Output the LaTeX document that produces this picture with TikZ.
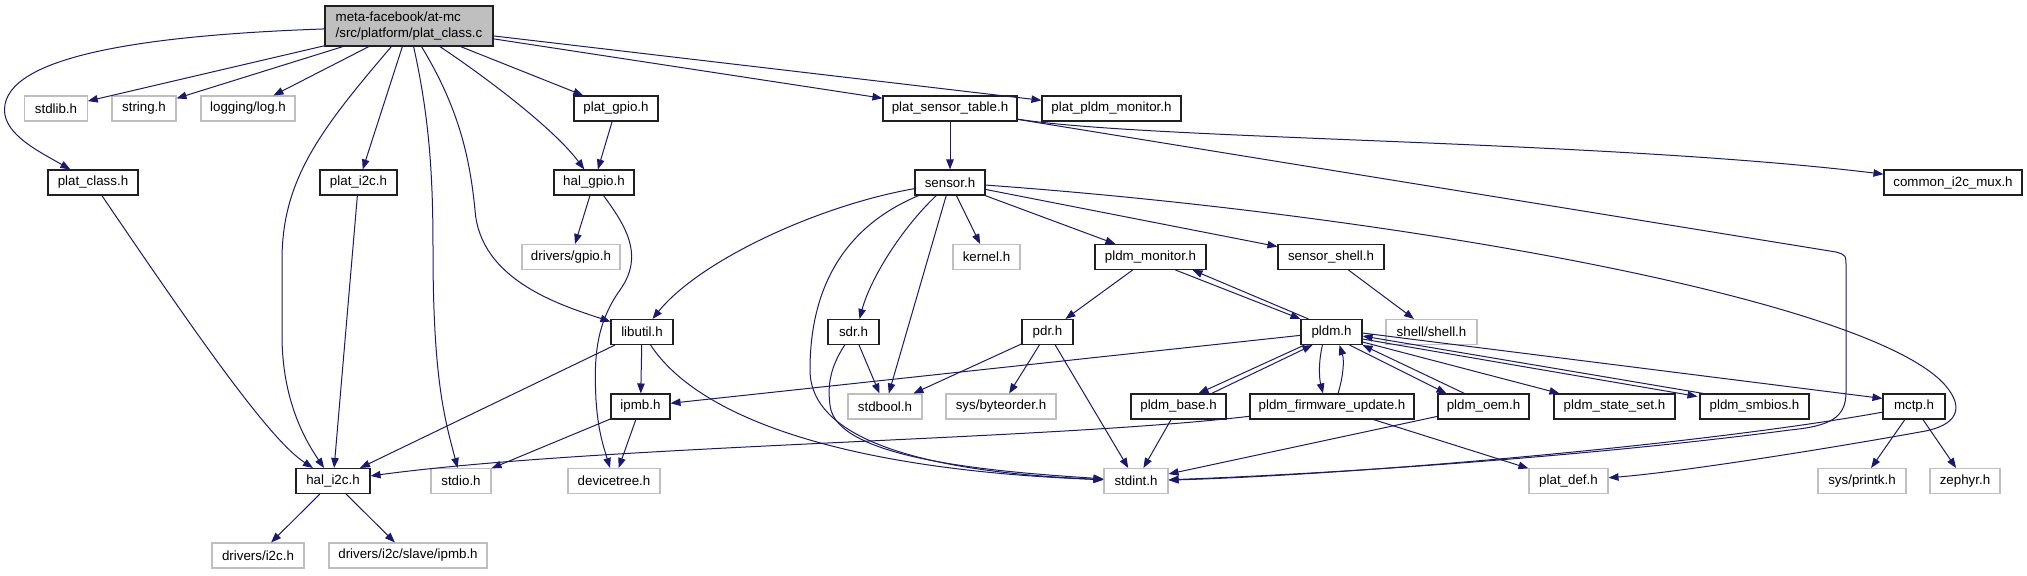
\documentclass[tikz,border=0pt]{standalone}
\usepackage{fontspec}
\setmainfont{Liberation Sans}
\usetikzlibrary{arrows.meta,calc}
\definecolor{edgeblue}{HTML}{191970}
\definecolor{greyline}{HTML}{BFBFBF}
\definecolor{rootfill}{HTML}{BFBFBF}
\definecolor{boxline}{HTML}{202020}
\tikzset{
  hnode/.style={rectangle, inner sep=0pt, minimum height=18.75pt, font=\fontsize{10}{11.5}\selectfont, text=black},
  blk/.style={hnode, draw=boxline, line width=0.8pt, fill=white},
  gry/.style={hnode, draw=greyline, line width=0.8pt, fill=white},
  bw/.style={minimum width=#1*0.75pt},
  dep/.style={draw=edgeblue, line width=0.75pt, -{Triangle[length=7.5pt,width=5.6pt]}}
}
\begin{document}
\begin{tikzpicture}[x=0.75pt,y=-0.75pt]
\useasboundingbox (0,0) rectangle (2027,575);
% row 0
\node[blk, bw=168, minimum height=30pt, fill=rootfill, align=left] (root) at (409,26) {meta-facebook/at-mc\\/src/platform/plat\_class.c};
% row 1
\node[gry, bw=62.5] (stdlib) at (56,108.5) {stdlib.h};
\node[gry, bw=64] (string) at (144,108.5) {string.h};
\node[gry, bw=94] (log) at (248,108.5) {logging/log.h};
\node[blk, bw=84] (plat_gpio) at (616,108.5) {plat\_gpio.h};
\node[blk, bw=134] (plat_sensor_table) at (950,108.5) {plat\_sensor\_table.h};
\node[blk, bw=139] (plat_pldm_monitor) at (1111.5,108.5) {plat\_pldm\_monitor.h};
% row 2
\node[blk, bw=90] (plat_class) at (93,182.5) {plat\_class.h};
\node[blk, bw=77] (plat_i2c) at (358.5,182.5) {plat\_i2c.h};
\node[blk, bw=80] (hal_gpio) at (594,182.5) {hal\_gpio.h};
\node[blk, bw=70] (sensor) at (950,182.5) {sensor.h};
\node[blk, bw=138] (common_i2c_mux) at (1953,182.5) {common\_i2c\_mux.h};
% row 3
\node[gry, bw=98] (drivers_gpio) at (571,257) {drivers/gpio.h};
\node[gry, bw=67] (kernel) at (986.5,257) {kernel.h};
\node[blk, bw=111] (pldm_monitor) at (1150.5,257) {pldm\_monitor.h};
\node[blk, bw=106] (sensor_shell) at (1331,257) {sensor\_shell.h};
% row 4
\node[blk, bw=62] (libutil) at (642,332) {libutil.h};
\node[blk, bw=51] (sdr) at (853.5,332) {sdr.h};
\node[blk, bw=51] (pdr) at (1047.5,332) {pdr.h};
\node[blk, bw=61] (pldm) at (1331.5,332) {pldm.h};
\node[gry, bw=91] (shell) at (1431.5,332) {shell/shell.h};
% row 5
\node[blk, bw=59] (ipmb) at (640.5,406.5) {ipmb.h};
\node[gry, bw=74] (stdbool) at (885,406.5) {stdbool.h};
\node[gry, bw=110] (byteorder) at (1001,406.5) {sys/byteorder.h};
\node[blk, bw=95] (pldm_base) at (1178.5,406.5) {pldm\_base.h};
\node[blk, bw=164] (pldm_fw) at (1332,406.5) {pldm\_firmware\_update.h};
\node[blk, bw=91] (pldm_oem) at (1483.5,406.5) {pldm\_oem.h};
\node[blk, bw=121] (pldm_state_set) at (1614.5,406.5) {pldm\_state\_set.h};
\node[blk, bw=109] (pldm_smbios) at (1754.5,406.5) {pldm\_smbios.h};
\node[blk, bw=62] (mctp) at (1914,406.5) {mctp.h};
% row 6
\node[blk, bw=74] (hal_i2c) at (333,481) {hal\_i2c.h};
\node[gry, bw=60] (stdio) at (461,481) {stdio.h};
\node[gry, bw=92] (devicetree) at (614,481) {devicetree.h};
\node[gry, bw=64] (stdint) at (1136,481) {stdint.h};
\node[gry, bw=79] (plat_def) at (1568.5,481) {plat\_def.h};
\node[gry, bw=88] (printk) at (1862,481) {sys/printk.h};
\node[gry, bw=70] (zephyr) at (1965,481) {zephyr.h};
% row 7
\node[gry, bw=92] (drivers_i2c) at (258,555.5) {drivers/i2c.h};
\node[gry, bw=158] (slave_ipmb) at (408,555.5) {drivers/i2c/slave/ipmb.h};

% edges from root
\draw[dep] (root) .. controls (150,35) and (4.5,55) .. (4.5,110) .. controls (4.5,135) and (40,152) .. (plat_class);
\draw[dep] (root) -- (stdlib);
\draw[dep] (root) -- (string);
\draw[dep] (root) -- (log);
\draw[dep] (root) .. controls (320,130) and (282,180) .. (282,260) -- (282,335) .. controls (282,400) and (305,440) .. (hal_i2c);
\draw[dep] (root) -- (plat_i2c);
\draw[dep] (root) .. controls (430,120) and (433,180) .. (433,250) .. controls (433,380) and (445,420) .. (stdio);
\draw[dep] (root) .. controls (460,110) and (470,160) .. (475,210) .. controls (480,280) and (560,305) .. (libutil);
\draw[dep] (root) .. controls (490,80) and (555,130) .. (hal_gpio);
\draw[dep] (root) -- (plat_gpio);
\draw[dep] (root) -- (plat_sensor_table);
\draw[dep] (root) -- (plat_pldm_monitor);

% left part
\draw[dep] (plat_class) .. controls (200,340) and (270,440) .. (hal_i2c);
\draw[dep] (plat_i2c) -- (hal_i2c);
\draw[dep] (plat_gpio) -- (hal_gpio);
\draw[dep] (hal_gpio) -- (drivers_gpio);
\draw[dep] (hal_gpio) .. controls (625,225) and (645,255) .. (620,290) .. controls (595,325) and (594,360) .. (596,400) .. controls (598,430) and (603,445) .. (devicetree);
\draw[dep] (libutil) -- (hal_i2c);
\draw[dep] (libutil) -- (ipmb);
\draw[dep] (libutil) .. controls (700,420) and (850,470) .. (stdint);
\draw[dep] (ipmb) -- (stdio);
\draw[dep] (ipmb) -- (devicetree);
\draw[dep] (hal_i2c) -- (drivers_i2c);
\draw[dep] (hal_i2c) -- (slave_ipmb);

% plat_sensor_table
\draw[dep] (plat_sensor_table) -- (sensor);
\draw[dep] (plat_sensor_table) .. controls (1150,140) and (1600,140) .. (common_i2c_mux);
\draw[dep] (plat_sensor_table) -- (1836,252) .. controls (1846,255) .. (1846,268) -- (1846,392) .. controls (1846,418) and (1830,426) .. (1790,430) .. controls (1600,455) and (1350,473) .. (stdint);

% sensor
\draw[dep] (sensor) .. controls (820,205) and (700,260) .. (libutil);
\draw[dep] (sensor) .. controls (860,220) and (810,270) .. (810,370) .. controls (810,460) and (1000,475) .. (stdint);
\draw[dep] (sensor) .. controls (900,230) and (870,280) .. ($(sdr.north)+(6,0)$);
\draw[dep] (sensor) -- (stdbool);
\draw[dep] (sensor) -- (kernel);
\draw[dep] (sensor) -- (pldm_monitor);
\draw[dep] (sensor) -- (sensor_shell);
\draw[dep] (sensor) .. controls (1400,215) and (1870,300) .. (1945,385) .. controls (1965,408) and (1958,426) .. (1920,432) .. controls (1820,450) and (1680,472) .. (plat_def);

% sdr, pdr, pldm_monitor
\draw[dep] (sdr) .. controls (828,370) and (828,390) .. (830,405) .. controls (835,460) and (1000,472) .. (stdint);
\draw[dep] (sdr) -- (stdbool);
\draw[dep] (pldm_monitor) -- (pdr);
\draw[dep] ($(pldm_monitor.south)+(25,0)$) -- (pldm.north west);
\draw[dep] ($(pldm.north)+(-23,0)$) -- ($(pldm_monitor.south)+(42,0)$);
\draw[dep] (sensor_shell) -- (shell);
\draw[dep] (pdr) -- (stdbool);
\draw[dep] (pdr) -- (byteorder);
\draw[dep] (pdr) -- (stdint);

% pldm
\draw[dep] (pldm) -- (ipmb);
\draw[dep] ($(pldm.south west)+(4,0)$) -- ($(pldm_base.north)+(20,0)$);
\draw[dep] ($(pldm_base.north)+(33,0)$) -- ($(pldm.south west)+(12,0)$);
\draw[dep] ($(pldm.south)+(-9,0)$) .. controls +(-4,16) and +(-4,-16) .. ($(pldm_fw.north)+(-9,0)$);
\draw[dep] ($(pldm_fw.north)+(6,0)$) .. controls +(5,-16) and +(5,16) .. ($(pldm.south)+(8,0)$);
\draw[dep] ($(pldm.south)+(18,0)$) -- ($(pldm_oem.north)+(-37,0)$);
\draw[dep] ($(pldm_oem.north)+(-19,0)$) -- (pldm.south east);
\draw[dep] ($(pldm.east)+(0,10)$) -- ($(pldm_state_set.north)+(-55,0)$);
\draw[dep] ($(pldm.east)+(0,7)$) -- ($(pldm_smbios.north west)+(-2,3)$);
\draw[dep] ($(pldm_smbios.north west)+(4,0)$) -- ($(pldm.east)+(0,4)$);
\draw[dep] ($(pldm.east)+(0,1)$) -- ($(mctp.north west)+(0,5)$);

% lower row
\draw[dep] (pldm_base) -- (stdint);
\draw[dep] (pldm_fw) .. controls (1050,440) and (600,445) .. (hal_i2c);
\draw[dep] (pldm_fw) -- (plat_def);
\draw[dep] (pldm_oem) -- (stdint);
\draw[dep] (mctp) .. controls (1700,445) and (1350,475) .. (stdint);
\draw[dep] (mctp) -- (printk);
\draw[dep] (mctp) -- (zephyr);
\end{tikzpicture}
\end{document}
